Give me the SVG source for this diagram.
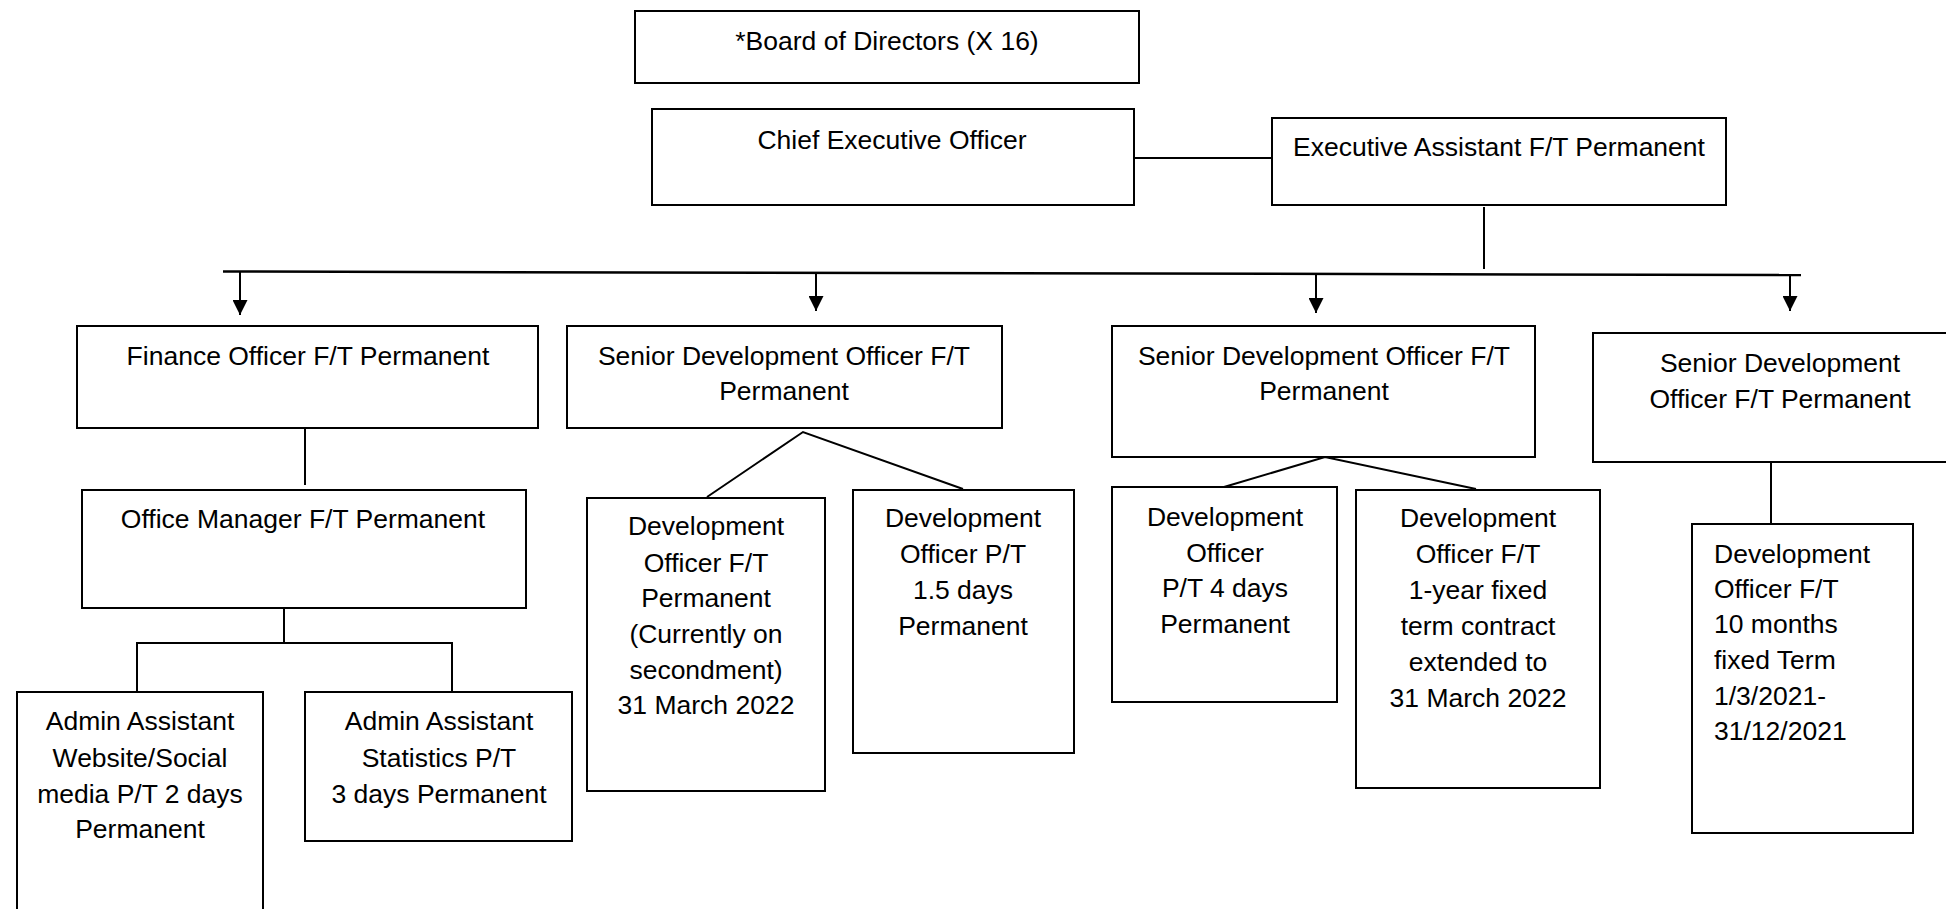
<svg xmlns="http://www.w3.org/2000/svg" width="1946" height="909" viewBox="0 0 1946 909">
<style>
.box{fill:#fff;stroke:#000;stroke-width:2}
.t{font-family:"Liberation Sans",Arial,sans-serif;font-size:26.5px;fill:#000;text-anchor:middle}
.l{font-family:"Liberation Sans",Arial,sans-serif;font-size:26.5px;fill:#000}
.c{fill:none;stroke:#000;stroke-width:2}
</style>
<defs>
<marker id="arr" markerUnits="userSpaceOnUse" markerWidth="15" markerHeight="15" refX="15" refY="7.5" orient="auto" viewBox="0 0 15 15">
<path d="M0,0 L15,7.5 L0,15 z" fill="#000"/>
</marker>
</defs>
<rect width="1946" height="909" fill="#fff"/>
<g id="connectors">
<line class="c" x1="1134" y1="158" x2="1276" y2="158"/>
<line class="c" x1="1484" y1="207" x2="1484" y2="269"/>
<line class="c" style="stroke-width:2.5" x1="223" y1="271.5" x2="1801" y2="275"/>
<line class="c" x1="240" y1="272" x2="240" y2="315" marker-end="url(#arr)"/>
<line class="c" x1="816" y1="273" x2="816" y2="311" marker-end="url(#arr)"/>
<line class="c" x1="1316" y1="274" x2="1316" y2="313" marker-end="url(#arr)"/>
<line class="c" x1="1790" y1="275" x2="1790" y2="311" marker-end="url(#arr)"/>
<line class="c" x1="305" y1="428" x2="305" y2="485"/>
<polyline class="c" points="284,608 284,643"/>
<polyline class="c" points="137,692 137,643 452,643 452,692"/>
<polyline class="c" points="707,497 803,432 963,489"/>
<polyline class="c" points="1224,487 1325,457 1476,489"/>
<line class="c" x1="1771" y1="462" x2="1771" y2="524"/>
</g>
<g id="board">
<rect class="box" x="635" y="11" width="504" height="72"/>
<text class="t" x="887" y="50">*Board of Directors (X 16)</text>
</g>
<g id="ceo">
<rect class="box" x="652" y="109" width="482" height="96"/>
<text class="t" x="892" y="149">Chief Executive Officer</text>
</g>
<g id="exec-assistant">
<rect class="box" x="1272" y="118" width="454" height="87"/>
<text class="t" x="1499" y="156">Executive Assistant F/T Permanent</text>
</g>
<g id="finance-officer">
<rect class="box" x="77" y="326" width="461" height="102"/>
<text class="t" x="308" y="365">Finance Officer F/T Permanent</text>
</g>
<g id="sdo-1">
<rect class="box" x="567" y="326" width="435" height="102"/>
<text class="t" x="784" y="365">Senior Development Officer F/T</text>
<text class="t" x="784" y="400">Permanent</text>
</g>
<g id="sdo-2">
<rect class="box" x="1112" y="326" width="423" height="131"/>
<text class="t" x="1324" y="365">Senior Development Officer F/T</text>
<text class="t" x="1324" y="400">Permanent</text>
</g>
<g id="sdo-3">
<rect class="box" x="1593" y="333" width="376" height="129"/>
<text class="t" x="1780" y="372">Senior Development</text>
<text class="t" x="1780" y="408">Officer F/T Permanent</text>
</g>
<g id="office-manager">
<rect class="box" x="82" y="490" width="444" height="118"/>
<text class="t" x="303" y="528">Office Manager F/T Permanent</text>
</g>
<g id="admin-1">
<rect class="box" x="17" y="692" width="246" height="240"/>
<text class="t" x="140" y="730">Admin Assistant</text>
<text class="t" x="140" y="767">Website/Social</text>
<text class="t" x="140" y="803">media P/T 2 days</text>
<text class="t" x="140" y="838">Permanent</text>
</g>
<g id="admin-2">
<rect class="box" x="305" y="692" width="267" height="149"/>
<text class="t" x="439" y="730">Admin Assistant</text>
<text class="t" x="439" y="767">Statistics P/T</text>
<text class="t" x="439" y="803">3 days Permanent</text>
</g>
<g id="dev-1">
<rect class="box" x="587" y="498" width="238" height="293"/>
<text class="t" x="706" y="535">Development</text>
<text class="t" x="706" y="572">Officer F/T</text>
<text class="t" x="706" y="607">Permanent</text>
<text class="t" x="706" y="643">(Currently on</text>
<text class="t" x="706" y="679">secondment)</text>
<text class="t" x="706" y="714">31 March 2022</text>
</g>
<g id="dev-2">
<rect class="box" x="853" y="490" width="221" height="263"/>
<text class="t" x="963" y="527">Development</text>
<text class="t" x="963" y="563">Officer P/T</text>
<text class="t" x="963" y="599">1.5 days</text>
<text class="t" x="963" y="635">Permanent</text>
</g>
<g id="dev-3">
<rect class="box" x="1112" y="487" width="225" height="215"/>
<text class="t" x="1225" y="526">Development</text>
<text class="t" x="1225" y="562">Officer</text>
<text class="t" x="1225" y="597">P/T 4 days</text>
<text class="t" x="1225" y="633">Permanent</text>
</g>
<g id="dev-4">
<rect class="box" x="1356" y="490" width="244" height="298"/>
<text class="t" x="1478" y="527">Development</text>
<text class="t" x="1478" y="563">Officer F/T</text>
<text class="t" x="1478" y="599">1-year fixed</text>
<text class="t" x="1478" y="635">term contract</text>
<text class="t" x="1478" y="671">extended to</text>
<text class="t" x="1478" y="707">31 March 2022</text>
</g>
<g id="dev-5">
<rect class="box" x="1692" y="524" width="221" height="309"/>
<text class="l" x="1714" y="563">Development</text>
<text class="l" x="1714" y="598">Officer F/T</text>
<text class="l" x="1714" y="633">10 months</text>
<text class="l" x="1714" y="669">fixed Term</text>
<text class="l" x="1714" y="705">1/3/2021-</text>
<text class="l" x="1714" y="740">31/12/2021</text>
</g>
</svg>
